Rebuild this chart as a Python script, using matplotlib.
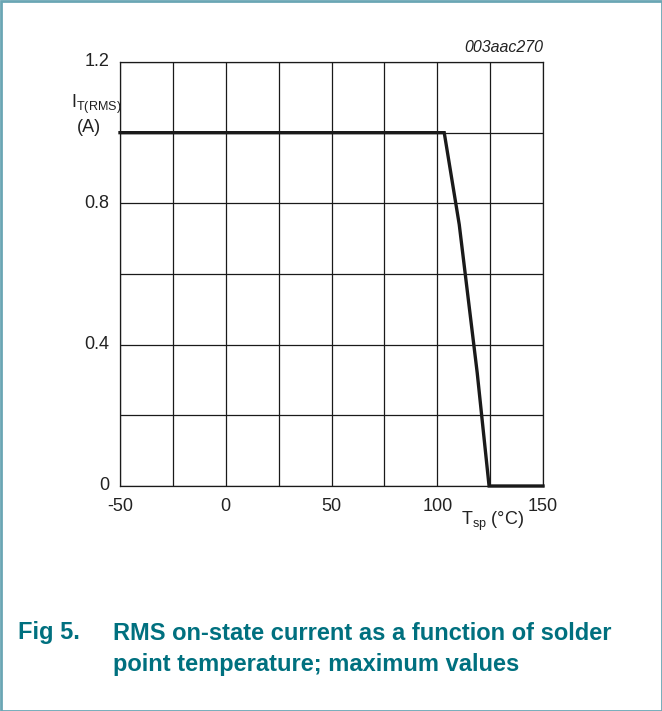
import matplotlib
matplotlib.use("Agg")
import matplotlib.pyplot as plt
from matplotlib.patches import Rectangle

plt.rcParams['font.family'] = ['Liberation Sans', 'DejaVu Sans']

temp = [-50, 103.3, 110.4, 118.9, 124.5, 150]
current = [1.0, 1.0, 0.74, 0.32, 0.0, 0.0]
xticks = [-50, 0, 50, 100, 150]
xticklabels = ['-50', '0', '50', '100', '150']
yticks = [0, 0.4, 0.8, 1.2]
yticklabels = ['0', '0.4', '0.8', '1.2']

W, H = 662, 711
fig = plt.figure(figsize=(W/100, H/100), dpi=100)
ax = fig.add_axes([120/W, 1-486/H, 423/W, 424/H])

ax.plot(temp, current, color='#1a1a1a', lw=2.4, solid_joinstyle='miter', clip_on=False, zorder=3)
ax.set_xlim(-50, 150)
ax.set_ylim(0, 1.2)
ax.set_xticks(range(-50, 151, 25))
ax.set_yticks([i*0.2 for i in range(7)])
ax.grid(True, color='#1a1a1a', lw=0.9)
ax.set_xticklabels([])
ax.set_yticklabels([])
ax.tick_params(length=0)
for s in ax.spines.values():
    s.set_color('#1a1a1a'); s.set_linewidth(0.9)

fs = 13
for v, t in zip(xticks, xticklabels):
    ax.text(v, -0.035, t, ha='center', va='top', fontsize=fs, color='#222222')
for v, t in zip(yticks, yticklabels):
    ax.text(-55, v, t, ha='right', va='center', fontsize=fs, color='#222222')

fig.text(96/W, 1-104/H, r'I$_{\mathregular{T(RMS)}}$', ha='center', va='center', fontsize=fs, color='#222222')
fig.text(89/W, 1-128/H, '(A)', ha='center', va='center', fontsize=fs, color='#222222')
fig.text(493/W, 1-521/H, r'T$_{\mathregular{sp}}$ (°C)', ha='center', va='center', fontsize=fs, color='#222222')
fig.text(543/W, 1-48/H, '003aac270', ha='right', va='center', fontsize=11.5, style='italic', color='#222222')

teal = '#00707f'
cfs = 17
fig.text(18/W, 1-633/H, 'Fig 5.', ha='left', va='center', fontsize=cfs, weight='bold', color=teal)
fig.text(113/W, 1-633/H, 'RMS on-state current as a function of solder', ha='left', va='center', fontsize=cfs, weight='bold', color=teal)
fig.text(113/W, 1-664/H, 'point temperature; maximum values', ha='left', va='center', fontsize=cfs, weight='bold', color=teal)

fig.patches.append(Rectangle((0.5/W, 0.5/H), 1-1/W, 1-1/H, transform=fig.transFigure, fill=False, edgecolor='#6aa6b4', lw=2))

fig.savefig('out.png', dpi=100)
